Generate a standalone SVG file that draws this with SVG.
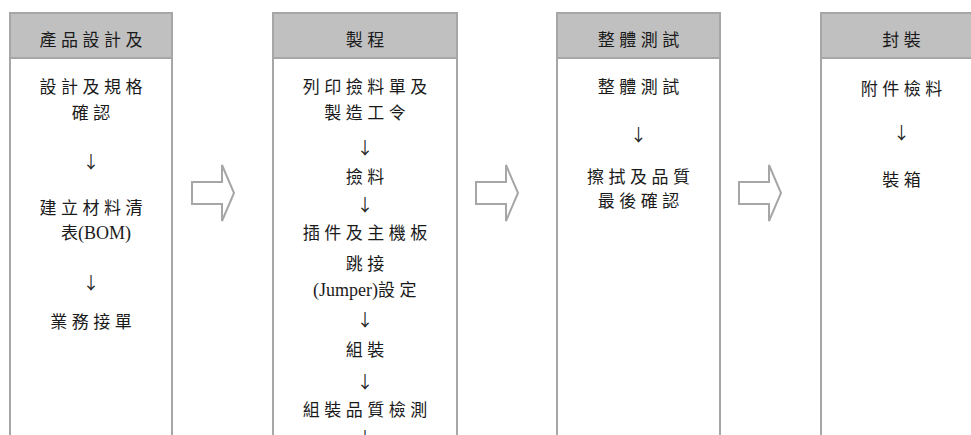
<svg xmlns="http://www.w3.org/2000/svg" width="971" height="435" viewBox="0 0 971 435">
<style>
.col{fill:#ffffff;stroke:#a6a6a6;stroke-width:2}
.hdr{fill:#c0c0c0;stroke:#a6a6a6;stroke-width:2}
text{font-family:"Liberation Serif","Noto Sans CJK TC",serif;font-size:17px;fill:#1a1a1a;text-anchor:middle}
.cj{letter-spacing:4.5px}
.la{font-size:18px}
.ar{font-family:"Noto Sans CJK TC","DejaVu Sans",sans-serif;font-size:17px;fill:#222222;fill-opacity:0.99}
.blk{fill:#ffffff;stroke:#a6a6a6;stroke-width:2;stroke-linejoin:miter}
</style>
<rect x="0" y="0" width="971" height="435" fill="#ffffff"/>
<g id="col1">
<rect class="col" x="10" y="13" width="162" height="440"/>
<rect class="hdr" x="10" y="13" width="162" height="45"/>
<text class="cj" x="93.2" y="46">產品設計及</text>
<text class="cj" x="93.2" y="93">設計及規格</text>
<text class="cj" x="93.2" y="119">確認</text>
<text class="ar" x="91" y="168">↓</text>
<text class="cj" x="93.2" y="214">建立材料清</text>
<text x="96" y="239">表<tspan class="la">(BOM)</tspan></text>
<text class="ar" x="91" y="289">↓</text>
<text class="cj" x="93.2" y="328">業務接單</text>
</g>
<g id="col2">
<rect class="col" x="273" y="13" width="184" height="440"/>
<rect class="hdr" x="273" y="13" width="184" height="45"/>
<text class="cj" x="367.2" y="46">製程</text>
<text class="cj" x="367.2" y="93">列印撿料單及</text>
<text class="cj" x="367.2" y="119">製造工令</text>
<text class="ar" x="365" y="154">↓</text>
<text class="cj" x="367.2" y="183">撿料</text>
<text class="ar" x="365" y="211">↓</text>
<text class="cj" x="367.2" y="239">插件及主機板</text>
<text class="cj" x="367.2" y="270">跳接</text>
<text x="367" y="296"><tspan class="la">(Jumper)</tspan><tspan class="cj">設定</tspan></text>
<text class="ar" x="365" y="326">↓</text>
<text class="cj" x="367.2" y="356">組裝</text>
<text class="ar" x="365" y="388">↓</text>
<text class="cj" x="367.2" y="416">組裝品質檢測</text>
<text class="ar" x="365" y="444">↓</text>
</g>
<g id="col3">
<rect class="col" x="557" y="13" width="163" height="440"/>
<rect class="hdr" x="557" y="13" width="163" height="45"/>
<text class="cj" x="640.7" y="46">整體測試</text>
<text class="cj" x="640.7" y="93">整體測試</text>
<text class="ar" x="638.5" y="141">↓</text>
<text class="cj" x="640.7" y="183">擦拭及品質</text>
<text class="cj" x="640.7" y="207">最後確認</text>
</g>
<g id="col4">
<rect class="col" x="821" y="13" width="162" height="440"/>
<rect class="hdr" x="821" y="13" width="162" height="45"/>
<text class="cj" x="903.7" y="46">封裝</text>
<text class="cj" x="903.7" y="95">附件檢料</text>
<text class="ar" x="901.5" y="139">↓</text>
<text class="cj" x="903.7" y="186">裝箱</text>
</g>
<g id="connectors">
<path class="blk" d="M192,182 H222 V165 L234,193 L222,221 V204 H192 Z"/>
<path class="blk" d="M476,182 H506 V165 L518,193 L506,221 V204 H476 Z"/>
<path class="blk" d="M739,182 H769 V165 L781,193 L769,221 V204 H739 Z"/>
</g>
</svg>
